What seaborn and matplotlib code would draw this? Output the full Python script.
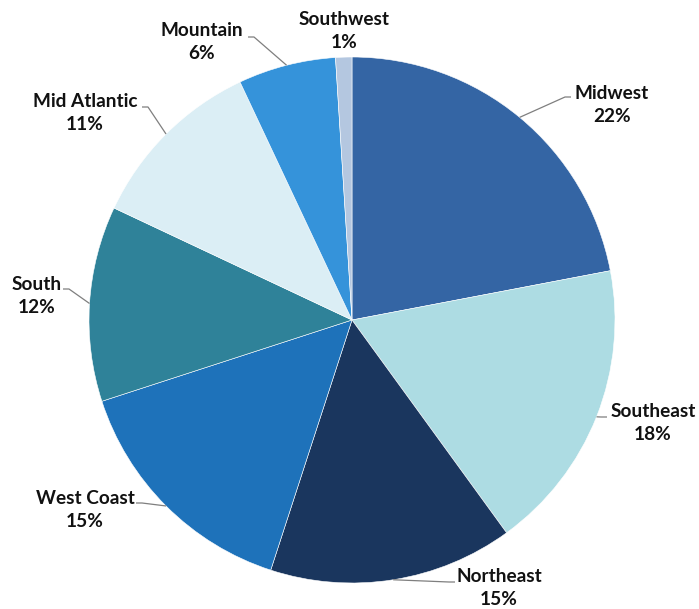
import numpy as np
import matplotlib
matplotlib.use("Agg")
import matplotlib.pyplot as plt
import seaborn as sns

# Share of total by region, clockwise from 12 o'clock
regions = ["Midwest", "Southeast", "Northeast", "West Coast",
           "South", "Mid Atlantic", "Mountain", "Southwest"]
shares = [22, 18, 15, 15, 12, 11, 6, 1]
colors = ["#3465A4", "#ADDCE3", "#1A365E", "#1E72BA",
          "#2F8299", "#DBEEF5", "#3593DA", "#B4C7E0"]

sns.set_theme(style="white")
plt.rcParams["font.family"] = ["Lato", "DejaVu Sans"]

W, H = 699, 609
CX, CY, R = 352, 320, 263  # pie centre and radius in pixels


def px(x, y):
    """Pixel position (from top-left) to pie units."""
    return (x - CX) / R, (CY - y) / R


fig = plt.figure(figsize=(W / 100, H / 100), dpi=100)
ax = fig.add_axes([0, 0, 1, 1])
wedges, _ = ax.pie(shares, colors=colors, startangle=90, counterclock=False,
                   radius=1.0, wedgeprops=dict(edgecolor="white", linewidth=0.4))
ax.set_aspect("auto")
ax.set_xlim(-CX / R, (W - CX) / R)
ax.set_ylim(-(H - CY) / R, CY / R)
ax.axis("off")

# label block centre and leader-line start (pixels); None = no leader
label_pos = {
    "Midwest": ((612, 105), (571, 97), "left"),
    "Southeast": ((653, 423), (607, 417), "left"),
    "Northeast": ((499, 588), (455, 582), "left"),
    "West Coast": ((85, 510), (136, 503), "right"),
    "South": ((37, 296), (63, 289), "right"),
    "Mid Atlantic": ((85, 113), (142, 107), "right"),
    "Mountain": ((202, 42), (248, 37), "right"),
    "Southwest": ((344, 31), None, None),
}

for w, name, val in zip(wedges, regions, shares):
    (tx, ty), lead, side = label_pos[name]
    x, y = px(tx, ty)
    ax.text(x, y, f"{name}\n{val}%", ha="center", va="center",
            fontsize=13.7, fontweight="bold", color="#111111",
            linespacing=1.4)
    if lead is not None:
        mid = np.deg2rad((w.theta1 + w.theta2) / 2)
        ex, ey = np.cos(mid), np.sin(mid)
        sx, sy = px(*lead)
        step = 6 / R if side == "left" else -6 / R
        ax.plot([sx, sx - step, ex], [sy, sy, ey], color="#7f7f7f",
                lw=0.9, solid_capstyle="butt")

fig.savefig("out.png", dpi=100)
